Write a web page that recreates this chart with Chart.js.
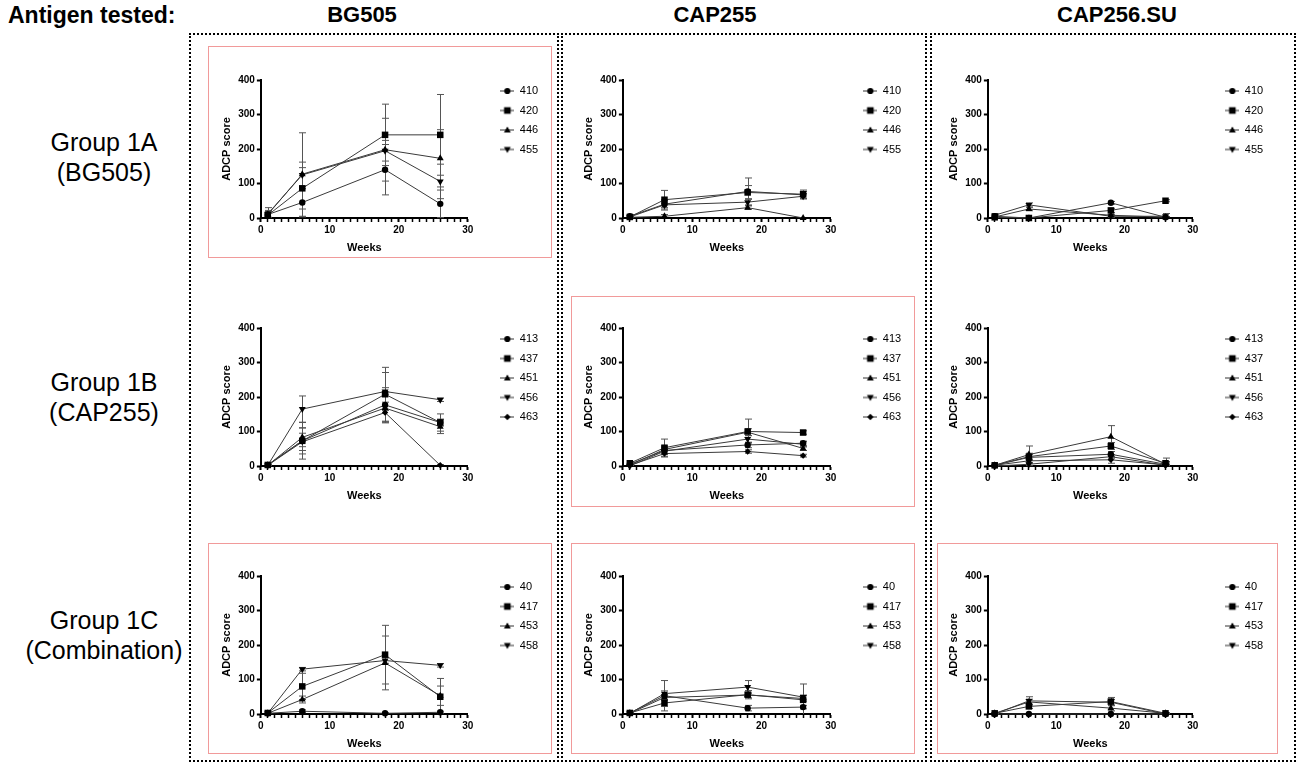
<!DOCTYPE html>
<html>
<head>
<meta charset="utf-8">
<script src="https://cdn.jsdelivr.net/npm/chart.js@4.4.1/dist/chart.umd.min.js"></script>
<style>
  body { margin: 0; background: #fff; }
  #page { position: relative; width: 1298px; height: 762px; overflow: hidden; font-family: "Liberation Sans", Arial, sans-serif; color: #000; }
  .hdr { position: absolute; top: 2px; font-size: 22px; font-weight: bold; line-height: 26px; white-space: nowrap; }
  .col-title { width: 300px; text-align: center; }
  .row-label { position: absolute; left: 0; width: 208px; text-align: center; font-size: 25px; line-height: 30px; }
  .col-box { position: absolute; top: 33px; height: 729px; border: 2px dotted #000; box-sizing: border-box; }
  .red-box { position: absolute; border: 1px solid #f19a9a; box-sizing: border-box; }
  canvas { position: absolute; }
</style>
</head>
<body>
<div id="page">
  <div class="hdr" style="left:8px; font-size:23px">Antigen tested:</div>
  <div class="hdr col-title" style="left:212px">BG505</div>
  <div class="hdr col-title" style="left:565px">CAP255</div>
  <div class="hdr col-title" style="left:967px">CAP256.SU</div>

  <div class="col-box" style="left:189px; width:370px"></div>
  <div class="col-box" style="left:561px; width:366px"></div>
  <div class="col-box" style="left:930px; width:366px"></div>

  <div class="row-label" style="top:127px">Group 1A<br>(BG505)</div>
  <div class="row-label" style="top:367px">Group 1B<br>(CAP255)</div>
  <div class="row-label" style="top:605px">Group 1C<br>(Combination)</div>

  <div class="red-box" style="left:208px; top:46px; width:344px; height:212px"></div>
  <div class="red-box" style="left:571px; top:296px; width:344px; height:211px"></div>
  <div class="red-box" style="left:208px; top:543px; width:344px; height:211px"></div>
  <div class="red-box" style="left:571px; top:543px; width:344px; height:211px"></div>
  <div class="red-box" style="left:937px; top:543px; width:341px; height:211px"></div>
</div>

<script>
// 공통 x 값 (주차)
const weeks = [1, 6, 18, 26];

// 동물 번호 (범례)
const group1AAnimals = ["410", "420", "446", "455"];
const group1BAnimals = ["413", "437", "451", "456", "463"];
const group1CAnimals = ["40", "417", "453", "458"];

// Group 1A - 평균 / 오차
const g1aBG505 = [[10, 45, 140, 41], [8, 86, 241, 241], [10, 127, 198, 173], [12, 125, 195, 106]];
const g1aBG505Err = [[8, 40, 73, 40], [10, 60, 89, 117], [12, 35, 91, 83], [18, 122, 30, 50]];
const g1aCAP255 = [[5, 40, 77, 67], [3, 53, 74, 69], [2, 5, 30, 0], [3, 38, 46, 63]];
const g1aCAP255Err = [[5, 10, 39, 10], [3, 27, 20, 12], [2, 5, 5, 0], [2, 15, 10, 8]];
const g1aCAP256 = [[5, 0, 44, 2], [2, 0, 22, 50], [3, 26, 8, 2], [8, 38, 5, 5]];
const g1aCAP256Err = [[3, 0, 4, 2], [2, 0, 6, 3], [2, 5, 3, 2], [4, 6, 3, 8]];

// Group 1B
const g1bBG505 = [[3, 73, 177, 126], [3, 73, 208, 126], [2, 83, 168, 114], [2, 165, 216, 192], [2, 70, 155, 2]];
const g1bBG505Err = [[2, 38, 50, 10], [3, 53, 78, 25], [2, 27, 40, 20], [2, 38, 55, 5], [2, 25, 30, 2]];
const g1bCAP255 = [[5, 45, 61, 66], [8, 53, 100, 97], [3, 48, 98, 51], [0, 43, 78, 63], [2, 36, 42, 30]];
const g1bCAP255Err = [[4, 10, 8, 6], [5, 25, 36, 5], [3, 10, 10, 6], [2, 10, 10, 8], [2, 10, 5, 4]];
const g1bCAP256 = [[2, 25, 34, 5], [2, 27, 58, 8], [2, 33, 85, 5], [0, 5, 27, 2], [2, 15, 18, 3]];
const g1bCAP256Err = [[2, 8, 8, 4], [2, 10, 10, 5], [2, 25, 32, 18], [1, 4, 6, 2], [1, 5, 10, 2]];

// Group 1C
const g1cBG505 = [[2, 8, 2, 5], [3, 80, 172, 50], [2, 42, 148, 53], [2, 130, 155, 141]];
const g1cBG505Err = [[2, 4, 2, 3], [3, 38, 85, 53], [2, 10, 78, 28], [2, 5, 8, 5]];
const g1cCAP255 = [[3, 53, 17, 20], [3, 32, 56, 41], [2, 48, 55, 45], [2, 59, 78, 49]];
const g1cCAP255Err = [[3, 44, 8, 5], [3, 10, 12, 46], [2, 8, 8, 8], [2, 8, 19, 6]];
const g1cCAP256 = [[0, 0, 0, 0], [2, 22, 36, 2], [2, 35, 17, 2], [0, 38, 34, 0]];
const g1cCAP256Err = [[0, 0, 0, 0], [1, 6, 12, 2], [1, 8, 8, 1], [1, 12, 8, 1]];

// 축 눈금
const xMax = 30;
const yMax = 400;
const yStep = 100;

// 마커 모양 (동물 순서대로)
const markers = [
  { name: "circle", style: "circle", rotation: 0, radius: 3.2 },
  { name: "rect", style: "rect", rotation: 0, radius: 4.6 },
  { name: "triangle", style: "triangle", rotation: 0, radius: 4 },
  { name: "down", style: "triangle", rotation: 180, radius: 4 },
  { name: "diamond", style: "rectRot", rotation: 0, radius: 3.2 },
];

// 각 패널의 플롯 영역 위치
const colLeft = [261, 623, 988];
const colRight = [468, 831, 1193];
const rowTop = [80, 328, 576];
const rowBottom = [218, 466, 714];

const panels = [
  { row: 0, col: 0, animals: group1AAnimals, means: g1aBG505, errs: g1aBG505Err },
  { row: 0, col: 1, animals: group1AAnimals, means: g1aCAP255, errs: g1aCAP255Err },
  { row: 0, col: 2, animals: group1AAnimals, means: g1aCAP256, errs: g1aCAP256Err },
  { row: 1, col: 0, animals: group1BAnimals, means: g1bBG505, errs: g1bBG505Err },
  { row: 1, col: 1, animals: group1BAnimals, means: g1bCAP255, errs: g1bCAP255Err },
  { row: 1, col: 2, animals: group1BAnimals, means: g1bCAP256, errs: g1bCAP256Err },
  { row: 2, col: 0, animals: group1CAnimals, means: g1cBG505, errs: g1cBG505Err },
  { row: 2, col: 1, animals: group1CAnimals, means: g1cCAP255, errs: g1cCAP255Err },
  { row: 2, col: 2, animals: group1CAnimals, means: g1cCAP256, errs: g1cCAP256Err },
];

Chart.defaults.font.family = "'Liberation Sans', Arial, sans-serif";
Chart.defaults.color = "#000";

// 범례 아이콘 (선 + 마커)
function legendIcon(name) {
  const c = document.createElement("canvas");
  c.width = 14;
  c.height = 10;
  const g = c.getContext("2d");
  g.strokeStyle = "#333";
  g.lineWidth = 1;
  g.beginPath();
  g.moveTo(0, 5);
  g.lineTo(14, 5);
  g.stroke();
  g.fillStyle = "#000";
  g.beginPath();
  const cx = 7, cy = 5;
  if (name === "circle") {
    g.arc(cx, cy, 3.1, 0, Math.PI * 2);
  } else if (name === "rect") {
    g.rect(cx - 3.3, cy - 3.3, 6.6, 6.6);
  } else if (name === "triangle") {
    g.moveTo(cx, cy - 3.6);
    g.lineTo(cx + 3.4, cy + 2.4);
    g.lineTo(cx - 3.4, cy + 2.4);
  } else if (name === "down") {
    g.moveTo(cx, cy + 3.6);
    g.lineTo(cx + 3.4, cy - 2.4);
    g.lineTo(cx - 3.4, cy - 2.4);
  } else {
    g.moveTo(cx, cy - 3.2);
    g.lineTo(cx + 3.2, cy);
    g.lineTo(cx, cy + 3.2);
    g.lineTo(cx - 3.2, cy);
  }
  g.closePath();
  g.fill();
  return c;
}

// 오차 막대 플러그인
const errorBars = {
  id: "errorBars",
  beforeDatasetsDraw(chart) {
    const { ctx } = chart;
    const xs = chart.scales.x, ys = chart.scales.y;
    ctx.save();
    ctx.strokeStyle = "#555";
    ctx.lineWidth = 1;
    chart.data.datasets.forEach((ds) => {
      ds.data.forEach((p, k) => {
        const e = ds.errors[k];
        if (!e) return;
        const px = Math.round(xs.getPixelForValue(p.x)) + 0.5;
        const top = ys.getPixelForValue(p.y + e);
        const low = Math.max(0, p.y - e);
        const bot = ys.getPixelForValue(low);
        ctx.beginPath();
        ctx.moveTo(px, top);
        ctx.lineTo(px, bot);
        ctx.moveTo(px - 3.5, top);
        ctx.lineTo(px + 3.5, top);
        if (low > 0) {
          ctx.moveTo(px - 3.5, bot);
          ctx.lineTo(px + 3.5, bot);
        }
        ctx.stroke();
      });
    });
    ctx.restore();
  },
};

// 범례와 플롯 사이 간격
const legendShift = 24;
const legendGap = {
  id: "legendGap",
  beforeLayout(chart) {
    const lg = chart.legend;
    if (lg && !lg._gapPatched) {
      const fit = lg.fit;
      lg.fit = function () {
        fit.call(this);
        this.width += legendShift;
      };
      lg._gapPatched = true;
    }
  },
  afterLayout(chart) {
    if (chart.legend) {
      chart.legend.left += legendShift;
      chart.legend.top -= 3;
    }
  },
};

function makeChart(panel) {
  const page = document.getElementById("page");
  const canvas = document.createElement("canvas");
  canvas.width = 330;
  canvas.height = 200;
  page.appendChild(canvas);

  const datasets = panel.animals.map((name, i) => {
    const m = markers[i];
    return {
      label: name,
      data: weeks.map((w, k) => ({ x: w, y: panel.means[i][k] })),
      errors: panel.errs[i],
      icon: legendIcon(m.name),
      borderColor: "#3a3a3a",
      borderWidth: 1,
      pointStyle: m.style,
      pointRotation: m.rotation,
      pointRadius: m.radius,
      pointBackgroundColor: "#000",
      pointBorderColor: "#000",
      pointBorderWidth: 0,
      tension: 0,
      clip: false,
    };
  });

  const chart = new Chart(canvas, {
    type: "line",
    data: { datasets },
    options: {
      responsive: false,
      maintainAspectRatio: false,
      animation: false,
      layout: { padding: { top: 8, right: 2, bottom: 2, left: 2 } },
      scales: {
        x: {
          type: "linear",
          min: 0,
          max: xMax,
          ticks: {
            stepSize: 1,
            autoSkip: false,
            maxRotation: 0,
            padding: 2,
            font: { size: 10, weight: "bold" },
            callback: (v) => (v % 10 === 0 ? v : ""),
          },
          grid: {
            drawOnChartArea: false,
            tickLength: 4,
            tickColor: "#000",
            tickWidth: (c) => (c.tick && c.tick.value % 10 === 0 ? 2 : 1.5),
          },
          border: { color: "#000", width: 2 },
          title: { display: true, text: "Weeks", font: { size: 11, weight: "bold" }, padding: { top: 3, bottom: 0 } },
        },
        y: {
          min: 0,
          max: yMax,
          ticks: { stepSize: yStep, padding: 2, font: { size: 10, weight: "bold" } },
          grid: { drawOnChartArea: false, tickLength: 4, tickColor: "#000", tickWidth: 2 },
          border: { color: "#000", width: 2 },
          title: { display: true, text: "ADCP score", font: { size: 11, weight: "bold" }, padding: { top: 0, bottom: 3 } },
        },
      },
      plugins: {
        tooltip: { enabled: false },
        legend: {
          position: "right",
          align: "start",
          fullSize: false,
          labels: {
            usePointStyle: true,
            pointStyleWidth: 14,
            boxHeight: 10,
            padding: 8.5,
            color: "#000",
            font: { size: 11 },
            generateLabels: (ch) =>
              ch.data.datasets.map((ds, i) => ({
                text: ds.label,
                pointStyle: ds.icon,
                fillStyle: "transparent",
                strokeStyle: "transparent",
                lineWidth: 0,
                fontColor: "#000",
                hidden: false,
                datasetIndex: i,
              })),
          },
        },
      },
    },
    plugins: [errorBars, legendGap],
  });

  // 플롯 영역을 원하는 위치/크기에 맞춤
  const tx = colLeft[panel.col], ty = rowTop[panel.row];
  const tw = colRight[panel.col] - tx, th = rowBottom[panel.row] - ty;
  let a = chart.chartArea;
  chart.resize(canvas.width + tw - (a.right - a.left), canvas.height + th - (a.bottom - a.top));
  a = chart.chartArea;
  canvas.style.left = tx - a.left + "px";
  canvas.style.top = ty - a.top + "px";
}

panels.forEach(makeChart);
</script>
</body>
</html>
